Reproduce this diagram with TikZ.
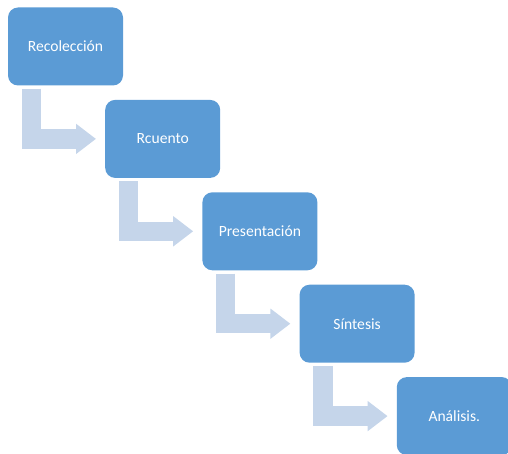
\documentclass[tikz,border=0pt]{standalone}
\usepackage{fontspec}
\setmainfont{Carlito}
\usetikzlibrary{arrows.meta}
\definecolor{boxblue}{HTML}{5B9BD5}
\definecolor{flowblue}{HTML}{C5D5EA}
\tikzset{
  stage/.style={fill=boxblue,rounded corners=10pt,minimum width=115pt,
    minimum height=78pt,inner sep=0pt,text=white,
    font=\fontsize{15.6}{18}\selectfont},
  flow/.style={draw=flowblue,line width=19.5pt,
    -{Triangle[length=20pt,width=29pt]}}
}
\begin{document}
\begin{tikzpicture}[x=1pt,y=-1pt]
  \useasboundingbox (0,0) rectangle (508,454);
  \clip (0,0) rectangle (508,454);
  % steps
  \foreach \name/\txt [count=\i from 0] in {rec/Recolección,rcu/Rcuento,pre/Presentación,sin/Síntesis,ana/Análisis.}{
    \node[stage] (\name) at (65.5+97.2*\i,46.5+92.4*\i) {\txt};
  }
  % bent arrows
  \foreach \a/\b in {rec/rcu,rcu/pre,pre/sin,sin/ana}{
    \draw[flow] ([xshift=23.5pt,yshift=-3pt]\a.south west) |- ([xshift=-9pt]\b.west);
  }
\end{tikzpicture}
\end{document}
